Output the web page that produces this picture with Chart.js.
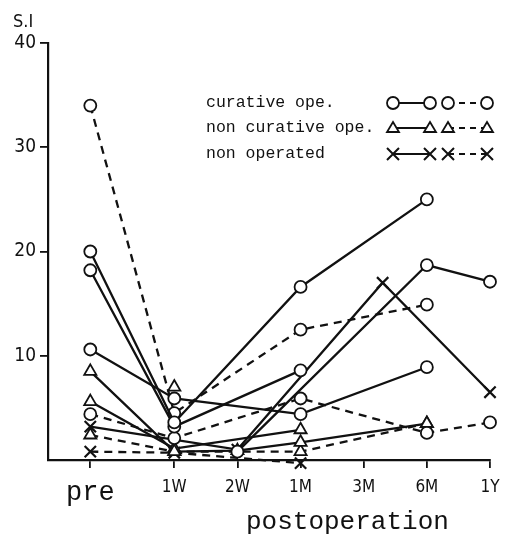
<!DOCTYPE html>
<html>
<head>
<meta charset="utf-8">
<script src="https://cdn.jsdelivr.net/npm/chart.js@4.4.1/dist/chart.umd.min.js"></script>
<style>
  html, body { margin: 0; padding: 0; background: #fff; }
  #wrap { width: 513px; height: 538px; }
</style>
</head>
<body>
<div id="wrap"><canvas id="chart" width="513" height="538"></canvas></div>
<script>
// time points on the x axis (1W = 1 ... 1Y = 6, "pre" sits a bit further left)
const tickValues = [-0.33, 1, 2, 3, 4, 5, 6];
const tickLabels = ['pre', '1W', '2W', '1M', '3M', '6M', '1Y'];

// curative ope. (circles)
const curSolidA = [[-0.33, 20.0], [1, 3.6], [3, 16.6], [5, 25.0]];
const curSolidB = [[-0.33, 18.2], [1, 3.2], [3, 8.6]];
const curSolidC = [[-0.33, 10.6], [1, 5.9], [3, 4.4], [5, 8.9]];
const curSolidD = [[2, 0.8], [5, 18.7], [6, 17.1]];
const curDashA = [[-0.33, 34.0], [1, 4.5], [3, 12.5], [5, 14.9]];
const curDashB = [[-0.33, 4.4], [1, 2.1], [3, 5.9], [5, 2.6], [6, 3.6]];

// non curative ope. (triangles)
const nonCurSolidA = [[-0.33, 8.5], [1, 0.8], [2, 0.9], [3, 1.7], [5, 3.5]];
const nonCurSolidB = [[-0.33, 5.6], [1, 1.1], [3, 2.9]];
const nonCurSolidC = [[1, 7.0]];
const nonCurDashA = [[-0.33, 2.4], [1, 0.8], [3, 0.8], [5, 3.5]];

// non operated (crosses)
const nonOpSolidA = [[-0.33, 3.2], [2, 1.0], [4.3, 17.0], [6, 6.5]];
const nonOpDashA = [[-0.33, 0.8], [1, 0.7], [3, -0.3]];

const ink = '#111';
const mono = '"Liberation Mono", "DejaVu Sans Mono", monospace';
const narrow = '"DejaVu Sans Condensed", "Liberation Sans Narrow", sans-serif';

function series(points, marker, dashed) {
  let radius = 6;
  let width = 1.8;
  if (marker === 'triangle') radius = 7;
  if (marker === 'crossRot') { radius = 8; width = 2.2; }
  return {
    data: points.map(p => ({ x: p[0], y: p[1] })),
    borderColor: ink,
    borderWidth: 2.3,
    borderDash: dashed ? [8, 6] : [],
    pointStyle: marker,
    pointRadius: radius,
    pointBackgroundColor: '#fff',
    pointBorderColor: ink,
    pointBorderWidth: width,
    fill: false,
    tension: 0,
    clip: false
  };
}

function drawMarker(ctx, kind, x, y) {
  ctx.lineWidth = 1.8;
  ctx.beginPath();
  if (kind === 'circle') {
    ctx.arc(x, y, 6, 0, Math.PI * 2);
    ctx.fillStyle = '#fff';
    ctx.fill();
    ctx.stroke();
  } else if (kind === 'triangle') {
    ctx.moveTo(x, y - 6);
    ctx.lineTo(x + 6, y + 4);
    ctx.lineTo(x - 6, y + 4);
    ctx.closePath();
    ctx.fillStyle = '#fff';
    ctx.fill();
    ctx.stroke();
  } else {
    ctx.lineWidth = 2;
    ctx.moveTo(x - 6, y - 6); ctx.lineTo(x + 6, y + 6);
    ctx.moveTo(x + 6, y - 6); ctx.lineTo(x - 6, y + 6);
    ctx.stroke();
  }
}

// legend with the solid and dashed sample of each group, plus the axis titles
const extras = {
  id: 'extras',
  afterDraw(chart) {
    const ctx = chart.ctx;
    ctx.save();
    ctx.fillStyle = ink;
    ctx.strokeStyle = ink;
    ctx.textBaseline = 'middle';

    ctx.font = '18px ' + narrow;
    ctx.textAlign = 'left';
    ctx.fillText('S.I', 13, 22);

    ctx.font = '26px ' + mono;
    ctx.fillText('postoperation', 246, 522);

    const rows = [
      ['curative ope.', 'circle', 103],
      ['non curative ope.', 'triangle', 128],
      ['non operated', 'cross', 154]
    ];
    ctx.font = '16.5px ' + mono;
    rows.forEach(r => {
      ctx.fillStyle = ink;
      ctx.fillText(r[0], 206, r[2]);
      const y = r[2];
      ctx.lineWidth = 1.8;
      ctx.setLineDash([]);
      ctx.beginPath(); ctx.moveTo(393, y); ctx.lineTo(430, y); ctx.stroke();
      ctx.setLineDash([6, 5]);
      ctx.beginPath(); ctx.moveTo(448, y); ctx.lineTo(487, y); ctx.stroke();
      ctx.setLineDash([]);
      [393, 430, 448, 487].forEach(x => drawMarker(ctx, r[1], x, y));
    });
    ctx.restore();
  }
};

new Chart(document.getElementById('chart'), {
  type: 'line',
  data: {
    datasets: [
      series(curSolidA, 'circle', false),
      series(curSolidB, 'circle', false),
      series(curSolidC, 'circle', false),
      series(curSolidD, 'circle', false),
      series(curDashA, 'circle', true),
      series(curDashB, 'circle', true),
      series(nonCurSolidA, 'triangle', false),
      series(nonCurSolidB, 'triangle', false),
      series(nonCurSolidC, 'triangle', false),
      series(nonCurDashA, 'triangle', true),
      series(nonOpSolidA, 'crossRot', false),
      series(nonOpDashA, 'crossRot', true)
    ]
  },
  options: {
    responsive: false,
    animation: false,
    layout: { padding: { top: 43, right: 23, left: 0, bottom: 0 } },
    plugins: { legend: { display: false }, tooltip: { enabled: false } },
    scales: {
      x: {
        type: 'linear',
        min: -1,
        max: 6,
        afterFit(scale) { scale.height = 78; },
        afterBuildTicks(scale) { scale.ticks = tickValues.map(v => ({ value: v })); },
        border: { display: true, color: ink, width: 2.2 },
        grid: { drawOnChartArea: false, color: ink, lineWidth: 1.8, tickLength: 8 },
        ticks: {
          color: ink,
          padding: 9,
          maxRotation: 0,
          autoSkip: false,
          font: c => (c.tick && c.tick.value < 0)
            ? { family: mono, size: 27 }
            : { family: narrow, size: 17 },
          callback: v => tickLabels[tickValues.indexOf(v)]
        }
      },
      y: {
        min: 0,
        max: 40,
        afterFit(scale) { scale.width = 48; },
        afterBuildTicks(scale) { scale.ticks = [10, 20, 30, 40].map(v => ({ value: v })); },
        border: { display: true, color: ink, width: 2.2 },
        grid: { drawOnChartArea: false, color: ink, lineWidth: 1.8, tickLength: 8 },
        ticks: { color: ink, padding: 4, font: { family: narrow, size: 19 } }
      }
    }
  },
  plugins: [extras]
});
</script>
</body>
</html>
